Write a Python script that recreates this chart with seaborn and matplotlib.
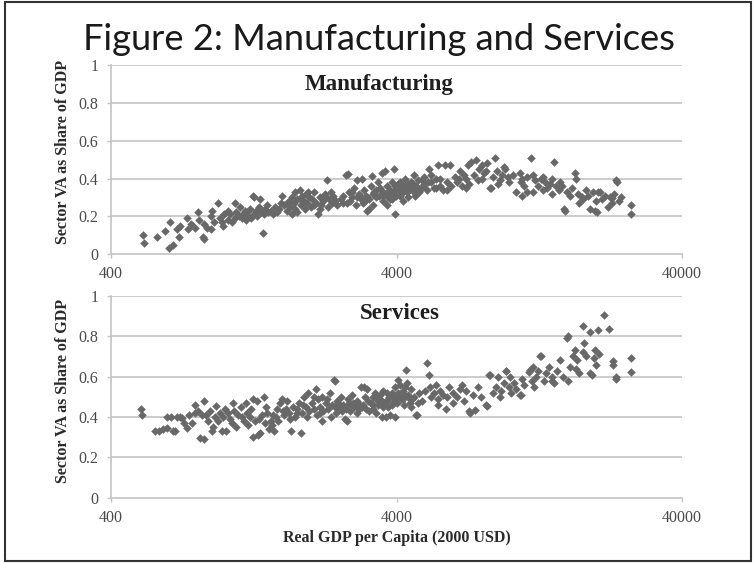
import matplotlib
matplotlib.use("Agg")
import matplotlib.pyplot as plt
import seaborn as sns
import pandas as pd
from matplotlib.patches import Rectangle
from matplotlib.ticker import FixedLocator, FixedFormatter, NullLocator

# ---------------- data ----------------
title = "Figure 2: Manufacturing and Services"
panel_titles = ["Manufacturing", "Services"]
ylabel = "Sector VA as Share of GDP"
xlabel = "Real GDP per Capita (2000 USD)"
x_ticks = [400, 4000, 40000]
x_tick_labels = ["400", "4000", "40000"]
y_ticks = [0, 0.2, 0.4, 0.6, 0.8, 1.0]
y_tick_labels = ["0", "0.2", "0.4", "0.6", "0.8", "1"]

mfg_gdp = [
    518, 520, 582, 616, 642, 637, 660, 682, 690, 700,
    736, 745, 760, 790, 809, 815, 841, 850, 850, 870, 898, 898, 905, 920, 950, 960, 976, 985, 995,
    1030, 1030, 1045, 1060, 1090, 1090, 1100, 1120, 1130, 1150, 1160, 1180, 1190, 1200, 1210,
    1230, 1240, 1260, 1265, 1270, 1290, 1300, 1320, 1333, 1345, 1360, 1370, 1390, 1410, 1420,
    1450, 1480, 1500, 1520, 1550, 1585, 1570,
    1620, 1650, 1680, 1700, 1720, 1750, 1770, 1790, 1800, 1830, 1850, 1870, 1890, 1910, 1930,
    1950, 1980, 2000, 2030, 2060, 2090, 2120, 2150, 2180, 2210, 2240, 2285, 2300, 2330, 2370,
    2400, 2440, 2480,
    1660, 1760, 1840, 1960, 2050, 2160, 2260, 2350, 2420, 1720,
    2550, 2600, 2655, 2680, 2720, 2750, 2800, 2850, 2880, 2900, 2950, 3000, 3050, 3080, 3120,
    3160, 3200, 3250, 3300, 3340, 3400, 3450, 3500, 3550, 3600, 3650, 3700, 3750, 3800, 3850,
    3930, 3950, 3980, 3900, 3960, 3850, 3700,
    2710, 3020, 3200, 3280, 3660, 2600, 2800, 3100, 3400, 3600, 3800, 2900,
    2980, 3150, 3320, 3480, 3580, 3720, 3880, 4020, 4120, 4280, 4420, 4580, 4760, 4950, 5150,
    4050, 4100, 4150, 4200, 4250, 4300, 4350, 4400, 4450, 4500, 4550, 4600, 4650, 4700, 4750,
    4800, 4900, 5000, 5100, 5200, 5300, 5400, 5500, 5600, 5700, 5800, 5900, 6000, 6150, 6200,
    4300, 4100, 4700, 5000, 5500,
    4200, 4400, 4600, 4900, 5300, 5700, 6000, 4050,
    6400, 6500, 6700, 6800, 7000, 7100, 7300, 7500, 7620, 7800, 8000, 8100, 8300, 8500, 8570,
    8700, 8870, 9000, 9200, 9400, 9600, 9800, 7000, 8000,
    6600, 7200, 7700, 8200, 9100, 9500, 9900, 6900,
    10200, 10500, 10800, 10900, 11000, 11200, 11500, 11840, 11500, 12000, 12200, 12500, 12800,
    13000, 13300, 13500, 13800, 14000, 14300, 14500, 14800, 15000, 15250, 15500, 15600, 15800,
    12000, 13000, 11000, 14000,
    16200, 16500, 16830, 17000, 17300, 17500, 17800, 18000, 18500, 18700, 19000, 19500, 19800,
    20000, 20300, 20600, 21000, 21500, 22000, 22300, 22800, 23200, 23500, 24000, 24500,
    26600, 26600, 20200, 22700, 23600,
]
mfg_share = [
    .10, .06, .09, .12, .17, .03, .05, .13, .09, .15,
    .19, .13, .16, .14, .22, .18, .09, .08, .16, .14, .13, .20, .23, .17, .27, .19, .17, .15, .21,
    .23, .18, .21, .17, .19, .27, .22, .20, .25, .19, .21, .23, .18, .22, .20,
    .24, .19, .31, .30, .21, .23, .20, .25, .29, .22, .11, .21, .24, .26, .22,
    .23, .21, .25, .22, .24, .31, .27,
    .26, .23, .28, .25, .30, .27, .33, .22, .29, .34, .26, .31, .28, .24, .32,
    .27, .30, .25, .29, .33, .27, .21, .30, .26, .28, .32, .39, .25, .29, .27,
    .31, .28, .26,
    .27, .24, .29, .33, .26, .24, .30, .33, .29, .21,
    .29, .31, .42, .27, .33, .28, .30, .35, .26, .39, .32, .29, .27, .34, .31,
    .23, .29, .36, .26, .33, .30, .38, .35, .43, .28, .32, .36, .30, .34, .38,
    .45, .21, .31, .33, .36, .29, .26,
    .425, .40, .24, .415, .44, .27, .33, .28, .34, .31, .29, .30,
    .31, .30, .32, .31, .33, .33, .32, .35, .34, .36, .34, .37, .35, .36, .38,
    .34, .31, .37, .28, .35, .40, .33, .30, .36, .38, .34, .42, .31, .36, .39,
    .33, .35, .37, .34, .45, .38, .35, .40, .47, .36, .34, .47, .38, .47, .36,
    .36, .38, .32, .41, .35,
    .33, .37, .35, .39, .42, .40, .34, .37,
    .41, .38, .44, .36, .40, .47, .49, .42, .50, .45, .40, .43, .48, .35, .35,
    .41, .51, .44, .39, .42, .45, .41, .35, .47,
    .40, .37, .39, .44, .37, .46, .38, .42,
    .42, .33, .43, .38, .40, .36, .41, .51, .33, .42, .39, .36, .40,
    .34, .38, .35, .37, .32, .49, .36, .34, .38, .36, .24, .23, .33,
    .33, .41, .31, .40,
    .31, .35, .43, .40, .32, .27, .30, .29, .34, .31, .24, .33, .23,
    .28, .33, .33, .29, .31, .25, .30, .27, .32, .39, .28, .30,
    .26, .21, .22, .295, .38,
]

srv_gdp = [
    508, 512, 570, 590, 610, 630, 630, 650, 660, 671, 680, 698, 710, 720, 740, 750, 770, 785, 790,
    810, 820, 830, 845, 850, 860, 875, 890, 900, 910, 925, 935, 950, 960, 980,
    990, 1000, 1010, 1030, 1045, 1060, 1070, 1080, 1100, 1110, 1137, 1150, 1170, 1190, 1195,
    1210, 1230, 1254, 1260, 1280, 1300, 1310, 1330, 1350, 1372, 1390, 1410, 1430, 1450, 1470,
    1494, 1510, 1530, 1560, 1585, 1600, 1620, 1650, 1680, 1714, 1730, 1760, 1790, 1820, 1853,
    1870, 1900, 1930, 1965, 1980,
    1240, 1320, 1400, 1480, 1540, 1640, 1700, 1800, 1880, 1950,
    2020, 2050, 2082, 2100, 2130, 2160, 2190, 2220, 2260, 2300, 2340, 2380, 2410, 2432, 2450,
    2480, 2520, 2550, 2600, 2640, 2680, 2720, 2760, 2800, 2850, 2900, 2950, 3000, 3050, 3100,
    3160, 3200, 2350, 2900, 2200,
    2060, 2150, 2280, 2500, 2580, 2700, 2820, 2980, 3080, 3120, 2440, 2660,
    2560, 2740, 2880, 3020, 3180, 3320, 3480, 3620, 3780, 3920, 4080, 4240, 4380,
    3250, 3300, 3350, 3400, 3450, 3524, 3550, 3600, 3664, 3700, 3750, 3800, 3850, 3900, 3963,
    3990, 4040, 4100, 4150, 4200, 4250, 4315, 4300, 4400, 4450, 4500, 4600, 4680, 4720, 4800,
    4900, 3400, 3600, 4000, 4500,
    3300, 3500, 3700, 3850, 3950, 4050, 4200, 4350, 4550, 4750, 3450, 3750,
    5050, 5130, 5200, 5250, 5300, 5400, 5500, 5600, 5700, 5800, 5960, 6000, 6100, 6300, 6500,
    6700, 6900, 7000, 7200, 7240, 7400, 7530, 7700, 7900, 5600, 6300, 6800,
    8250, 8310, 8450, 8480, 8700, 8900, 9100, 9300, 9500, 9650, 9710, 9900, 10100, 10300, 10500,
    10800, 10900, 11200, 11600, 11700, 11900, 12100, 12300, 12500, 12700, 12850, 9200, 10000,
    11000, 12000,
    13100, 13400, 13700, 14000, 14300, 14600, 15000, 15300, 15800, 15900, 16200, 16600, 16900,
    17200, 17500, 18000, 18200, 18000, 18500, 19000, 19000, 19300, 19600, 19800, 20000, 20300,
    20500, 21300, 22200, 22900, 22900, 23500, 23500, 26600, 26600, 14000, 16000, 17000,
]
srv_share = [
    .44, .41, .33, .33, .34, .40, .345, .40, .33, .33, .40, .40, .395, .37, .345, .41, .37, .46, .42,
    .43, .295, .41, .29, .48, .41, .38, .43, .33, .35, .40, .455, .38, .42, .33,
    .40, .44, .33, .42, .39, .37, .47, .43, .35, .41, .45, .40, .38, .47, .42,
    .36, .40, .30, .49, .38, .48, .31, .32, .41, .50, .37, .42, .34, .38, .36,
    .33, .40, .44, .47, .49, .43, .41, .48, .42, .33, .45, .40, .44, .47, .32,
    .42, .50, .45, .52, .43,
    .44, .39, .45, .41, .38, .44, .39, .42, .46, .40,
    .47, .44, .54, .41, .49, .45, .50, .43, .47, .44, .52, .46, .584, .58, .42,
    .48, .44, .50, .46, .39, .38, .47, .43, .51, .45, .48, .44, .55, .46, .50,
    .54, .43, .40, .42, .38,
    .50, .42, .49, .47, .43, .49, .47, .46, .55, .44, .45, .44,
    .45, .46, .47, .45, .48, .46, .48, .47, .50, .49, .50, .51, .50,
    .47, .44, .52, .49, .46, .485, .40, .53, .40, .48, .45, .41, .52, .47, .40,
    .50, .584, .56, .49, .53, .46, .633, .55, .51, .47, .54, .50, .41, .41, .52,
    .48, .42, .45, .47, .45,
    .50, .51, .52, .46, .55, .52, .49, .57, .49, .47, .49, .49,
    .53, .667, .61, .55, .50, .52, .56, .49, .53, .51, .44, .50, .55, .52, .50,
    .54, .48, .53, .43, .42, .51, .435, .55, .50, .46, .47, .56,
    .46, .455, .61, .61, .52, .55, .60, .53, .57, .63, .63, .55, .52, .57, .54,
    .51, .51, .56, .625, .633, .58, .55, .60, .63, .70, .70, .50, .60,
    .59, .65,
    .58, .62, .65, .60, .57, .63, .68, .60, .79, .80, .65, .70, .73,
    .68, .62, .85, .766, .72, .70, .823, .62, .61, .69, .73, .66, .83,
    .71, .906, .835, .675, .66, .59, .60, .69, .625, .58, .58, .64,
]
assert len(mfg_gdp) == len(mfg_share), (len(mfg_gdp), len(mfg_share))
assert len(srv_gdp) == len(srv_share), (len(srv_gdp), len(srv_share))

# ---------------- style ----------------
sns.set_theme(style="white")
plt.rcParams["font.family"] = ["Liberation Serif", "DejaVu Serif"]

W, H = 755, 563
fig = plt.figure(figsize=(W / 100, H / 100), dpi=100)
fig.patch.set_facecolor("white")

marker_color = "#686868"
grid_color = "#c4c4c4"
tick_color = "#4a4a4a"
serif = ["Liberation Serif", "DejaVu Serif"]

def px_axes(left, top, right, bottom):
    return [left / W, 1 - bottom / H, (right - left) / W, (bottom - top) / H]

ax_top = fig.add_axes(px_axes(111, 65.3, 682, 254))
ax_bot = fig.add_axes(px_axes(111, 296, 682, 497.5))

panels = [
    (ax_top, pd.DataFrame({"gdp": mfg_gdp, "share": mfg_share}), panel_titles[0], (0.47, 0.871), 0.541),
    (ax_bot, pd.DataFrame({"gdp": srv_gdp, "share": srv_share}), panel_titles[1], (0.506, 0.886), 0.53),
]

for ax, df, ptitle, tpos, ylab_y in panels:
    ax.set_facecolor("white")
    sns.scatterplot(data=df, x="gdp", y="share", ax=ax, marker="D", s=19,
                    color=marker_color, linewidth=0, alpha=1, zorder=3)
    ax.set_xscale("log")
    ax.set_xlim(400, 40000)
    ax.set_ylim(0, 1)
    ax.xaxis.set_major_locator(FixedLocator(x_ticks))
    ax.xaxis.set_major_formatter(FixedFormatter(x_tick_labels))
    ax.xaxis.set_minor_locator(NullLocator())
    ax.yaxis.set_major_locator(FixedLocator(y_ticks))
    ax.yaxis.set_major_formatter(FixedFormatter(y_tick_labels))
    ax.grid(False)
    for yv in y_ticks[1:]:
        ax.axhline(yv, color=grid_color, lw=1.2, zorder=1)
    for side in ["top", "right"]:
        ax.spines[side].set_visible(False)
    for side in ["left", "bottom"]:
        ax.spines[side].set_visible(True)
        ax.spines[side].set_color(grid_color)
        ax.spines[side].set_linewidth(1.2)
    ax.tick_params(axis="both", which="major", direction="out", length=3,
                   width=1.0, color=grid_color, labelcolor=tick_color, labelsize=11.5)
    ax.tick_params(axis="x", pad=6, bottom=True)
    ax.tick_params(axis="y", pad=6, left=True)
    for lab in ax.get_xticklabels() + ax.get_yticklabels():
        lab.set_family(serif)
    ax.set_ylabel(ylabel, fontsize=11.5, fontweight="bold", color="#2a2a2a", family=serif)
    ax.yaxis.set_label_coords(-0.07, ylab_y)
    ax.set_xlabel("")
    ax.text(tpos[0], tpos[1], ptitle, transform=ax.transAxes, ha="center", va="baseline",
            fontsize=16.5, fontweight="bold", color="#1e1e1e", family=serif, zorder=4)

ax_bot.set_xlabel(xlabel, fontsize=11.5, fontweight="bold", color="#2a2a2a", family=serif)
ax_bot.xaxis.set_label_coords(0.5, -0.16)
ax_bot.xaxis.label.set_va("top")

# title, fitted to the reference width
t = fig.text(379 / W, 1 - 50 / H, title, ha="center", va="baseline",
             fontsize=24, family=["Lato", "DejaVu Sans"], color="#1a1a1a")
renderer = fig.canvas.get_renderer()
wpx = t.get_window_extent(renderer).width
t.set_fontsize(24 * 592 / wpx)

# outer frame
fig.add_artist(Rectangle((5 / W, 1 - 561 / H), 746 / W, 559 / H, transform=fig.transFigure,
                         fill=False, ec="#333333", lw=1.5))

fig.savefig("out.png", dpi=100, facecolor="white")
